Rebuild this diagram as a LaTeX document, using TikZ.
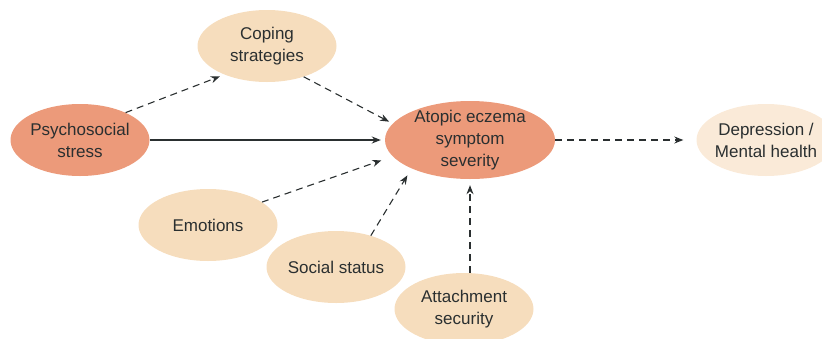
\documentclass[tikz,border=0pt]{standalone}
\usepackage{fontspec}
\setmainfont{Liberation Sans}
\usepackage{xcolor}
\usepackage{tikz}
\usetikzlibrary{shapes.geometric,arrows.meta,positioning,calc}
\definecolor{salmon}{HTML}{EC9A7A}
\definecolor{peach}{HTML}{F6DDBD}
\definecolor{cream}{HTML}{FAEAD8}
\definecolor{inkc}{HTML}{2A2F30}

\begin{document}
\begin{tikzpicture}[x=1pt, y=-1pt,
  bubble/.style={ellipse, draw=none, inner sep=0pt, minimum width=139pt, minimum height=72pt},
  txt/.style={align=center, text=inkc, font=\fontsize{17}{22}\selectfont},
  dep/.style={draw=inkc, line width=1.1pt, dash pattern=on 7pt off 5pt, -{Stealth[length=9pt,width=7pt]}},
  main/.style={draw=inkc, line width=1.6pt, -{Stealth[length=9pt,width=7pt]}}]
\path[use as bounding box, clip] (0,0) rectangle (822,338);
\node[bubble, fill=salmon, label={[txt]center:{Psychosocial\\stress}}] (psy) at (80,140) {};
\node[bubble, fill=peach, label={[txt]center:{Coping\\strategies}}] (cop) at (267,46) {};
\node[bubble, fill=salmon, minimum width=170pt, minimum height=78pt, label={[txt]center:{Atopic eczema\\symptom\\severity}}] (aes) at (470,140) {};
\node[bubble, fill=cream, label={[txt]center:{Depression /\\Mental health}}] (dmh) at (766,140) {};
\node[bubble, fill=peach, label={[txt]center:Emotions}] (emo) at (208,225) {};
\node[bubble, fill=peach, label={[txt]center:Social status}] (soc) at (336,267) {};
\node[bubble, fill=peach, label={[txt]center:{Attachment\\security}}] (att) at (464,309) {};
\draw[main, shorten >=4pt] (psy) -- (aes);
\draw[dep, shorten >=5pt] (psy.31) -- (cop.214);
\draw[dep, shorten >=4pt] (cop.320) -- (aes.168);
\draw[dep, shorten >=12pt] (emo.23) -- (aes.192);
\draw[dep, shorten >=8pt] (soc.42) -- (aes.206);
\draw[dep, shorten >=6pt] (att.north -| aes.south) -- (aes.south);
\draw[dep, shorten >=13pt] (aes) -- (dmh);
\end{tikzpicture}
\end{document}
